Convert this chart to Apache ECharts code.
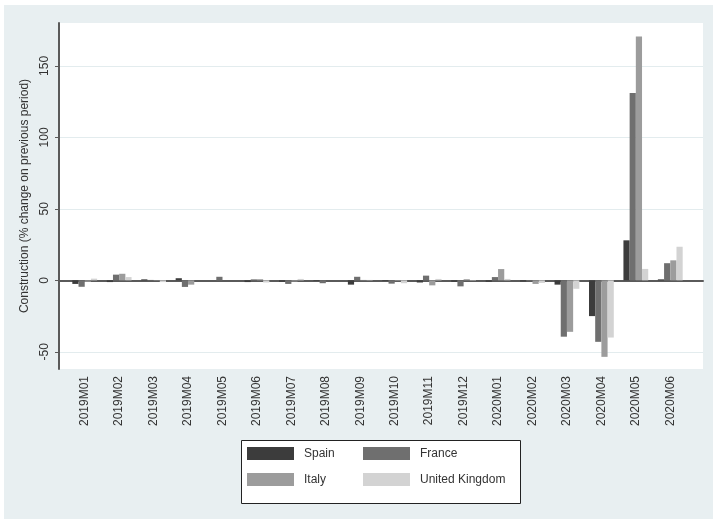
<!DOCTYPE html>
<html>
<head>
<meta charset="utf-8">
<script src="https://cdn.jsdelivr.net/npm/echarts@6/dist/echarts.min.js"></script>
<style>
    body { margin: 0; background: #fff; }
    #bg { position: absolute; left: 4px; top: 5px; width: 709px; height: 514px; background: #e8eff1; }
    #chart { position: absolute; left: 0; top: 0; width: 713px; height: 522px; }
</style>
</head>
<body>
<div id="bg"></div>
<div id="chart"></div>
<script>
// months on the x axis
const months = ['2019M01', '2019M02', '2019M03', '2019M04', '2019M05', '2019M06', '2019M07', '2019M08', '2019M09',
    '2019M10', '2019M11', '2019M12', '2020M01', '2020M02', '2020M03', '2020M04', '2020M05', '2020M06'];

// % change on previous period
const spain = [-2.5, -1.2, 0.7, 1.5, 0, -1.2, -1, -0.5, -3, -0.5, -1.5, -1, -1, -0.8, -3, -25, 28, 0.7];
const france = [-4.5, 4, 0.3, -4.6, 2.5, 0.7, -2.5, -2, 2.5, -2.3, 3.3, -4.2, 2.3, -0.5, -39.4, -43, 131, 12];
const italy = [-1, 4.6, -0.3, -3, 0, 0.8, -0.8, 0, 0.3, -0.5, -3.5, 0.8, 7.9, -2.5, -36, -53.5, 170.6, 14];
const uk = [1.2, 2.3, -1.2, 0, 0, -1.5, 1, 0, 0.3, -2, 1, -0.3, 1, -1.8, -5.9, -40, 8, 23.5];

const yTicks = [-50, 0, 50, 100, 150];

const font = "'Liberation Sans', Arial, sans-serif";
const colors = ['#3c3c3c', '#6f6f6f', '#9c9c9c', '#d3d3d3'];

const chart = echarts.init(document.getElementById('chart'));

const barSeries = (name, data) => ({
    name: name,
    type: 'bar',
    xAxisIndex: 1,
    yAxisIndex: 1,
    barWidth: 6.2,
    barGap: '0%',
    data: data
});

const legendBase = {
    orient: 'vertical',
    icon: 'rect',
    itemWidth: 47,
    itemHeight: 13,
    itemGap: 13,
    padding: 0,
    selectedMode: false,
    textStyle: { fontFamily: font, fontSize: 12, color: '#333', lineHeight: 13, padding: [0, 0, 0, 5] }
};

const option = {
    animation: false,
    color: colors,
    textStyle: { fontFamily: font },
    grid: [
        // plot frame (white area, y axis, x axis line)
        { left: 59, right: 10, top: 23, bottom: 153, show: true, backgroundColor: '#fff', borderWidth: 0 },
        // bars
        { left: 67.5, right: 25.5, top: 23, bottom: 153 }
    ],
    xAxis: [
        {
            gridIndex: 0, type: 'value', min: 0, max: 1,
            axisLine: { show: true, lineStyle: { color: '#5a5a5a', width: 2 } },
            axisTick: { show: false }, axisLabel: { show: false }, splitLine: { show: false }
        },
        {
            gridIndex: 1, type: 'category', data: months,
            axisLine: { show: false }, axisTick: { show: false },
            axisLabel: { rotate: 90, interval: 0, margin: 7, fontSize: 12, color: '#333', fontFamily: font }
        }
    ],
    yAxis: [
        {
            gridIndex: 0, type: 'value', min: -62, max: 180,
            name: 'Construction (% change on previous period)',
            nameLocation: 'middle', nameGap: 15, nameRotate: 90,
            nameTextStyle: { fontSize: 12, color: '#333', fontFamily: font },
            axisLine: { show: true, lineStyle: { color: '#5a5a5a', width: 2 } },
            axisTick: { show: true, length: 4, customValues: yTicks, lineStyle: { color: '#5a5a5a' } },
            axisLabel: { rotate: 90, margin: 8, fontSize: 12, color: '#333', fontFamily: font, customValues: yTicks },
            splitLine: { show: true, lineStyle: { color: '#e3ecee', width: 1 } }
        },
        { gridIndex: 1, type: 'value', min: -62, max: 180, show: false }
    ],
    legend: [
        Object.assign({}, legendBase, { data: ['Spain', 'Italy'], left: 247, top: 447 }),
        Object.assign({}, legendBase, { data: ['France', 'United Kingdom'], left: 363, top: 447 })
    ],
    graphic: [
        {
            type: 'rect', z: -1,
            shape: { x: 241.5, y: 440.5, width: 279, height: 63 },
            style: { fill: '#fff', stroke: '#222', lineWidth: 1 }
        }
    ],
    series: [
        barSeries('Spain', spain),
        barSeries('France', france),
        barSeries('Italy', italy),
        barSeries('United Kingdom', uk)
    ]
};

chart.setOption(option);
</script>
</body>
</html>
